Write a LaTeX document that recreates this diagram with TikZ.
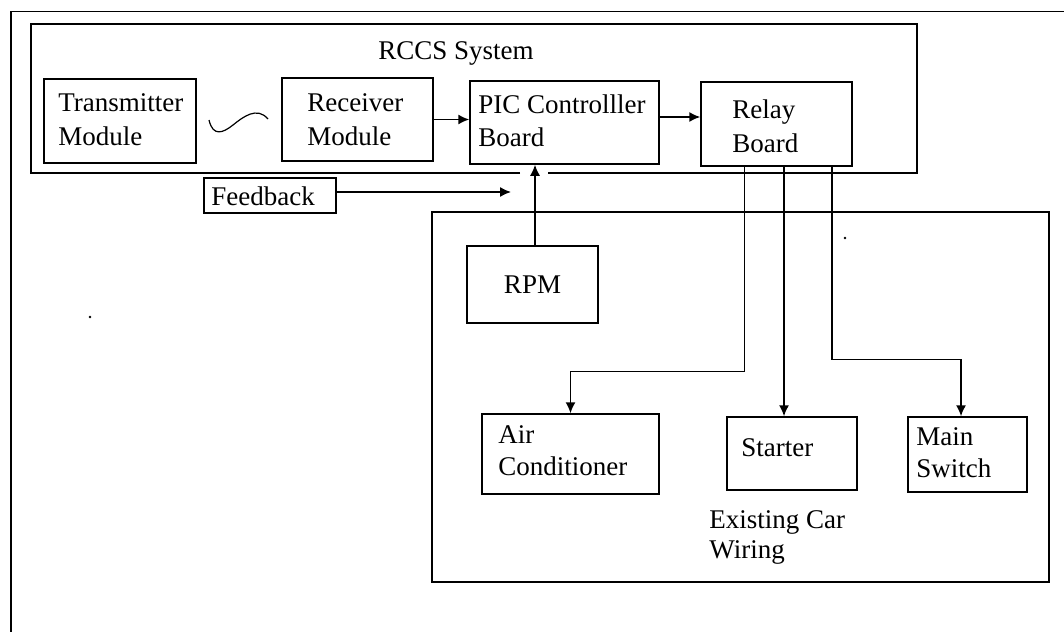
\documentclass[tikz,border=0pt]{standalone}
\usepackage{fontspec}
\setmainfont{Liberation Serif}
\usepackage{tikz}
\usetikzlibrary{arrows.meta}
\tikzset{>={Latex[length=5.5pt,width=5pt]}}

\begin{document}
\begin{tikzpicture}[x=0.5pt, y=-0.5pt, % coordenadas em pixels da figura
                    line join=miter,
                    font=\fontsize{13.5}{16}\selectfont,
                    box/.style={draw, line width=0.75pt, inner sep=0pt},
                    txt/.style={anchor=base west, inner sep=0pt},
                    wire/.style={line width=0.75pt, ->}]
  \useasboundingbox (0,0) rectangle (1064,631);

% Moldura externa (cortada pela borda)
  \draw[line width=0.8pt] (10.7,640) -- (10.7,11.7) -- (1070,11.7);

% Caixa do sistema RCCS, aberta sob a placa PIC
  \draw[line width=0.75pt] (520,173) -- (31,173) -- (31,24) -- (917,24) -- (917,173) -- (548,173);
  \node[txt] (rccs) at (378,60) {RCCS System};

% Blocos do sistema
  \node[box, minimum width=76pt,   minimum height=42pt]   (trans) at (120,121) {};
  \node[box, minimum width=75.5pt, minimum height=41.5pt] (recv)  at (357.5,119.5) {};
  \node[box, minimum width=94.5pt, minimum height=41.5pt] (pic)   at (564.5,122.5) {};
  \node[box, minimum width=75.5pt, minimum height=42pt]   (relay) at (776.5,124) {};
  \node[box, minimum width=66pt,   minimum height=17.5pt] (feedback) at (270,195.5) {};

  \node[txt] (transA) at (58,112) {Transmitter};
  \node[txt] (transB) at (58,145) {Module};
  \node[txt] (recvA)  at (307,112) {Receiver};
  \node[txt] (recvB)  at (307,145) {Module};
  \node[txt] (picA)   at (478,113) {PIC Controlller};
  \node[txt] (picB)   at (478,146) {Board};
  \node[txt] (relayA) at (732,119) {Relay};
  \node[txt] (relayB) at (732,152) {Board};
  \node[txt] (feedbackA) at (211,205) {Feedback};

% Onda de rádio entre transmissor e receptor
  \draw[line width=0.6pt] (209,120) .. controls (213,137) and (223,133) .. (233,125)
                                    .. controls (243,117) and (257,106) .. (268,119);

% Fiação existente do carro
  \node[box, minimum width=308.5pt, minimum height=185pt] (wiring) at (740.5,397) {};
  \node[box, minimum width=65.5pt, minimum height=38.5pt] (rpm)     at (532.5,284.5) {RPM};
  \node[box, minimum width=88.5pt, minimum height=40pt]   (ac)      at (570.5,454) {};
  \node[box, minimum width=65pt,   minimum height=36.5pt] (starter) at (792,453.5) {};
  \node[box, minimum width=59.5pt, minimum height=37.5pt] (main)    at (967.5,454.5) {};

  \node[txt] (acA)      at (498,443) {Air};
  \node[txt] (acB)      at (498,475) {Conditioner};
  \node[txt] (starterA) at (741,456) {Starter};
  \node[txt] (mainA)    at (916,445) {Main};
  \node[txt] (mainB)    at (916,477) {Switch};
  \node[txt] (wiringA)  at (709,528) {Existing Car};
  \node[txt] (wiringB)  at (709,558) {Wiring};

% Ligações
  \coordinate (fbend) at (511,192);
  \draw[wire] (recv.east) -- (recv.east -| pic.west);
  \draw[wire] ([yshift=2.75pt]pic.east) -- ([yshift=2.75pt]pic.east -| relay.west);
  \draw[wire] (feedback.east |- fbend) -- (fbend);
  \draw[wire] ([xshift=1.25pt]rpm.north) -- ([xshift=1.25pt]rpm.north |- pic.south);
  \draw[wire] ([xshift=22pt]relay.south west) |- ([yshift=21pt]ac.north) -- (ac.north);
  \draw[wire] ([xshift=3.75pt]relay.south) -- ([xshift=3.75pt]relay.south |- starter.north);
  \draw[wire] ([xshift=-10.5pt]relay.south east) |- ([xshift=-3.25pt,yshift=28.5pt]main.north)
                                                 -- ([xshift=-3.25pt]main.north);

% Pontos soltos
  \fill (845,238) circle (0.7pt);
  \fill (90,317) circle (0.7pt);
\end{tikzpicture}
\end{document}
